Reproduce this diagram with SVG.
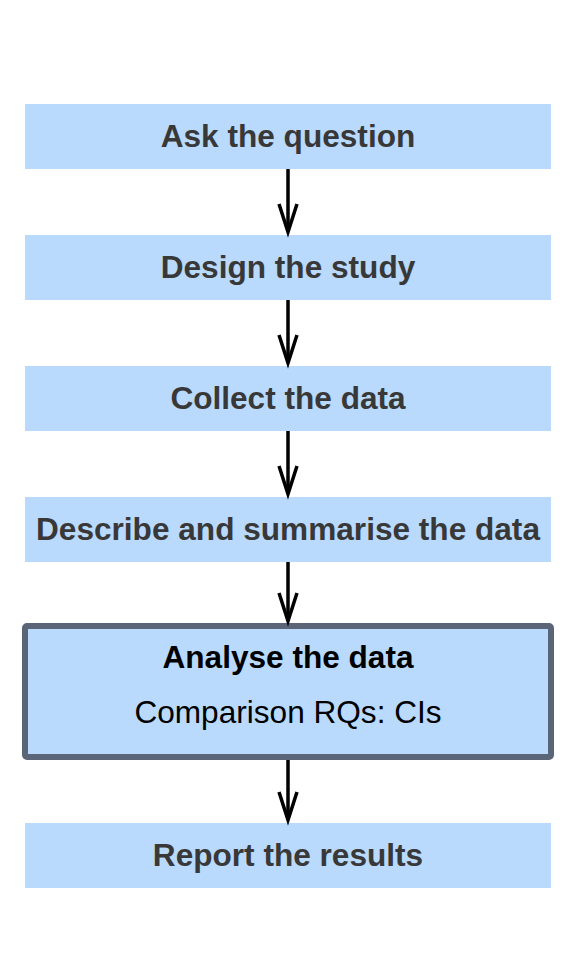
<svg xmlns="http://www.w3.org/2000/svg" width="576" height="960" viewBox="0 0 576 960">
<style>
.box{fill:#b9dafd;}
.lbl{font-family:"Liberation Sans",Arial,sans-serif;font-weight:bold;font-size:31.6px;fill:#383838;text-anchor:middle;}
.conn{stroke:#000;stroke-width:3.5;fill:none;}
.head{stroke:#000;stroke-width:3.5;fill:none;stroke-linejoin:miter;}
.t5{font-family:"Liberation Sans",Arial,sans-serif;font-size:31.6px;fill:#000;text-anchor:middle;}
</style>
<rect width="576" height="960" fill="#fff"/>
<g id="n1"><rect class="box" x="25" y="104" width="526" height="65"/><text class="lbl" x="288" y="147">Ask the question</text></g>
<g id="n2"><rect class="box" x="25" y="235" width="526" height="65"/><text class="lbl" x="288" y="278">Design the study</text></g>
<g id="n3"><rect class="box" x="25" y="366" width="526" height="65"/><text class="lbl" x="288" y="409">Collect the data</text></g>
<g id="n4"><rect class="box" x="25" y="497" width="526" height="65"/><text class="lbl" x="288" y="540">Describe and summarise the data</text></g>
<g id="n5"><rect x="25" y="626" width="526" height="131" rx="2" fill="#b9dafd" stroke="#5a6577" stroke-width="6"/>
<text class="t5" x="288" y="668" font-weight="bold">Analyse the data</text>
<text class="t5" x="288" y="723">Comparison RQs: CIs</text></g>
<g id="n6"><rect class="box" x="25" y="823" width="526" height="65"/><text class="lbl" x="288" y="866">Report the results</text></g>
<g id="connectors">
<path class="conn" d="M288,169 L288,231"/><path class="head" d="M279,204 L288,232 L297,204"/>
<path class="conn" d="M288,300 L288,362"/><path class="head" d="M279,335 L288,363 L297,335"/>
<path class="conn" d="M288,431 L288,493"/><path class="head" d="M279,466 L288,494 L297,466"/>
<path class="conn" d="M288,562 L288,620"/><path class="head" d="M279,593 L288,621 L297,593"/>
<path class="conn" d="M288,760 L288,819"/><path class="head" d="M279,792 L288,820 L297,792"/>
</g>
</svg>
